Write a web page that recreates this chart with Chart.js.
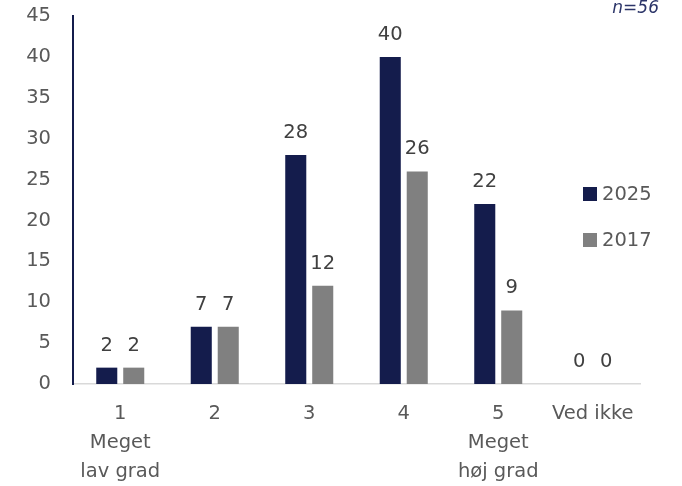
<!DOCTYPE html>
<html><head><meta charset="utf-8">
<script src="https://cdn.jsdelivr.net/npm/chart.js@4"></script>
<style>html,body{margin:0;padding:0;background:#fff}#wrap{width:682px;height:486px}</style>
</head><body><div id="wrap"><canvas id="c" width="682" height="486"></canvas></div>
<script>
const categories = [["1","Meget","lav grad"],"2","3","4",["5","Meget","høj grad"],"Ved ikke"];
const series2025 = [2,7,28,40,22,0];
const series2017 = [2,7,12,26,9,0];
const seriesNames = ["2025","2017"];
const yTicks = [0,5,10,15,20,25,30,35,40,45];
const noteText = "n=56";

const FONT = "'DejaVu Sans', sans-serif";
const NAVY = "#141c4c", GRAY = "#808080", TXT = "#595959";

const labelsPlugin = {
  id: 'labels',
  afterDatasetsDraw(chart) {
    const ctx = chart.ctx;
    ctx.save();
    ctx.font = "19.5px " + FONT;
    ctx.fillStyle = "#404040";
    ctx.textAlign = "center";
    ctx.textBaseline = "alphabetic";
    chart.data.datasets.forEach((ds, i) => {
      chart.getDatasetMeta(i).data.forEach((el, j) => {
        ctx.fillText(String(ds.data[j]), el.x, el.y - 17);
      });
    });
    // legend
    ctx.textAlign = "left";
    ctx.textBaseline = "middle";
    const ly = [194, 240];
    chart.data.datasets.forEach((ds, i) => {
      ctx.fillStyle = ds.backgroundColor;
      ctx.fillRect(583, ly[i] - 7, 14, 14);
      ctx.fillStyle = TXT;
      ctx.fillText(ds.label, 602, ly[i] + 1);
    });
    // note
    ctx.font = "italic 17px " + FONT;
    ctx.fillStyle = "#2b3468";
    ctx.textAlign = "right";
    ctx.fillText(noteText, 659, 9);
    ctx.restore();
  }
};

new Chart(document.getElementById('c'), {
  type: 'bar',
  data: {
    labels: categories,
    datasets: [
      {label: seriesNames[0], data: series2025, backgroundColor: NAVY, categoryPercentage: 0.571, barPercentage: 0.78},
      {label: seriesNames[1], data: series2017, backgroundColor: GRAY, categoryPercentage: 0.571, barPercentage: 0.78}
    ]
  },
  options: {
    responsive: false,
    animation: false,
    layout: {padding: {left: 0, right: 42, top: 16, bottom: 0}},
    plugins: {legend: {display: false}, tooltip: {enabled: false}},
    scales: {
      x: {
        grid: {display: false, drawTicks: false},
        border: {display: true, color: "#d9d9d9", width: 1.5},
        ticks: {color: TXT, font: {family: FONT, size: 19.5, lineHeight: 1.5}, padding: 15, maxRotation: 0, autoSkip: false},
        afterFit(s) { s.height = 102; s.paddingLeft = 0; s.paddingRight = 0; }
      },
      y: {
        min: 0, max: 45,
        afterBuildTicks(s) { s.ticks = yTicks.map(v => ({value: v})); },
        grid: {display: false, drawTicks: false},
        border: {display: true, color: NAVY, width: 2},
        ticks: {color: TXT, font: {family: FONT, size: 19.5}, padding: 22},
        afterFit(s) { s.width = 73; s.paddingTop = 0; s.paddingBottom = 0; }
      }
    }
  },
  plugins: [labelsPlugin]
});
</script></body></html>
